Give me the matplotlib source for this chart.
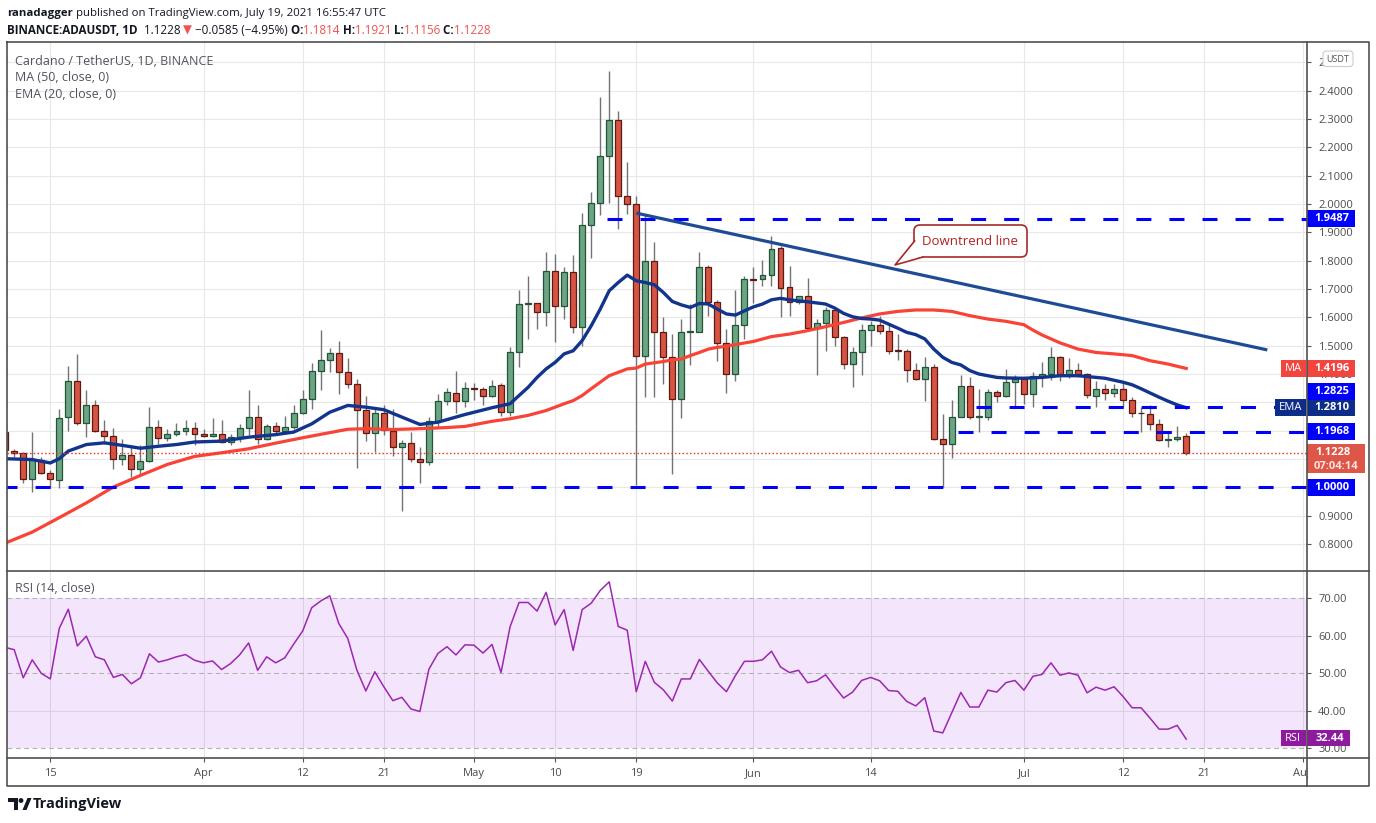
import numpy as np
import pandas as pd
import matplotlib
matplotlib.use('Agg')
import matplotlib.pyplot as plt
from matplotlib.patches import Rectangle, Polygon, Circle, FancyBboxPatch
from matplotlib.ticker import FuncFormatter

plt.rcParams['font.family'] = ['Open Sans', 'DejaVu Sans']
plt.rcParams['lines.scale_dashes'] = False

# daily candles ADA/USDT, 2021-03-10 .. 2021-07-19
start = pd.Timestamp('2021-03-10')
opens = [1.195, 1.129, 1.122, 1.031, 1.097, 1.051, 1.027, 1.248, 1.376, 1.228,
         1.291, 1.200, 1.182, 1.101, 1.115, 1.066, 1.094, 1.214, 1.175, 1.189,
         1.200, 1.210, 1.189, 1.182, 1.189, 1.161, 1.179, 1.210, 1.249, 1.171,
         1.217, 1.200, 1.214, 1.263, 1.312, 1.411, 1.450, 1.474, 1.407, 1.365,
         1.274, 1.193, 1.263, 1.200, 1.143, 1.157, 1.101, 1.090, 1.235, 1.305,
         1.333, 1.305, 1.350, 1.347, 1.323, 1.362, 1.267, 1.478, 1.647, 1.650,
         1.619, 1.763, 1.640, 1.760, 1.566, 1.925, 2.002, 2.171, 2.295, 2.027,
         1.999, 1.464, 1.798, 1.548, 1.460, 1.312, 1.548, 1.548, 1.777, 1.654,
         1.509, 1.400, 1.573, 1.736, 1.735, 1.749, 1.844, 1.707, 1.654, 1.675,
         1.562, 1.580, 1.626, 1.531, 1.436, 1.478, 1.555, 1.573, 1.552, 1.483,
         1.481, 1.414, 1.383, 1.425, 1.171, 1.154, 1.249, 1.358, 1.249, 1.249,
         1.337, 1.323, 1.372, 1.383, 1.330, 1.393, 1.399, 1.460, 1.399, 1.414,
         1.400, 1.323, 1.347, 1.333, 1.347, 1.309, 1.264, 1.259, 1.224, 1.168,
         1.171, 1.1814]
highs = [1.200, 1.136, 1.125, 1.194, 1.107, 1.060, 1.277, 1.430, 1.472, 1.342,
         1.310, 1.239, 1.208, 1.171, 1.144, 1.151, 1.285, 1.239, 1.207, 1.228,
         1.236, 1.230, 1.207, 1.245, 1.239, 1.189, 1.224, 1.342, 1.289, 1.224,
         1.230, 1.250, 1.289, 1.344, 1.438, 1.556, 1.492, 1.518, 1.456, 1.383,
         1.324, 1.280, 1.289, 1.277, 1.168, 1.195, 1.144, 1.248, 1.330, 1.352,
         1.412, 1.371, 1.368, 1.355, 1.379, 1.368, 1.496, 1.696, 1.746, 1.652,
         1.831, 1.825, 1.779, 1.820, 1.967, 2.043, 2.377, 2.468, 2.328, 2.148,
         2.028, 1.963, 1.866, 1.600, 1.541, 1.594, 1.647, 1.831, 1.785, 1.660,
         1.559, 1.696, 1.746, 1.776, 1.802, 1.887, 1.852, 1.782, 1.676, 1.738,
         1.594, 1.635, 1.637, 1.535, 1.494, 1.576, 1.588, 1.606, 1.576, 1.541,
         1.488, 1.438, 1.459, 1.436, 1.259, 1.309, 1.397, 1.388, 1.347, 1.347,
         1.344, 1.418, 1.398, 1.388, 1.406, 1.444, 1.494, 1.465, 1.457, 1.439,
         1.404, 1.374, 1.365, 1.365, 1.374, 1.318, 1.283, 1.289, 1.242, 1.195,
         1.218, 1.1921]
lows = [1.125, 1.107, 1.015, 0.983, 1.046, 0.999, 0.998, 1.198, 1.219, 1.177,
        1.195, 1.154, 1.064, 1.080, 1.037, 1.042, 1.090, 1.154, 1.163, 1.180,
        1.184, 1.148, 1.177, 1.177, 1.157, 1.149, 1.160, 1.184, 1.154, 1.168,
        1.189, 1.191, 1.207, 1.259, 1.277, 1.344, 1.406, 1.330, 1.350, 1.068,
        1.165, 1.124, 1.184, 1.112, 0.917, 1.090, 1.015, 1.078, 1.213, 1.290,
        1.262, 1.284, 1.309, 1.289, 1.318, 1.250, 1.253, 1.424, 1.524, 1.559,
        1.568, 1.512, 1.594, 1.545, 1.498, 1.809, 1.960, 2.005, 1.913, 1.966,
        1.007, 1.318, 1.318, 1.365, 1.048, 1.245, 1.433, 1.547, 1.605, 1.445,
        1.333, 1.376, 1.524, 1.649, 1.711, 1.709, 1.602, 1.606, 1.647, 1.553,
        1.397, 1.480, 1.500, 1.418, 1.353, 1.395, 1.500, 1.541, 1.470, 1.450,
        1.371, 1.379, 1.304, 1.166, 0.999, 1.105, 1.248, 1.242, 1.195, 1.236,
        1.300, 1.318, 1.283, 1.295, 1.283, 1.353, 1.379, 1.374, 1.385, 1.389,
        1.315, 1.283, 1.310, 1.318, 1.283, 1.248, 1.195, 1.201, 1.163, 1.144,
        1.165, 1.1156]
closes = [1.130, 1.122, 1.031, 1.097, 1.050, 1.031, 1.245, 1.376, 1.226, 1.291,
          1.200, 1.182, 1.101, 1.115, 1.066, 1.094, 1.214, 1.175, 1.189, 1.200,
          1.210, 1.189, 1.182, 1.189, 1.161, 1.179, 1.210, 1.249, 1.171, 1.217,
          1.200, 1.214, 1.263, 1.312, 1.411, 1.450, 1.474, 1.407, 1.365, 1.274,
          1.193, 1.263, 1.203, 1.143, 1.157, 1.101, 1.090, 1.235, 1.305, 1.337,
          1.305, 1.351, 1.346, 1.323, 1.358, 1.267, 1.478, 1.647, 1.650, 1.619,
          1.763, 1.640, 1.760, 1.566, 1.925, 2.002, 2.171, 2.295, 2.027, 1.999,
          1.464, 1.798, 1.548, 1.460, 1.312, 1.548, 1.551, 1.777, 1.654, 1.509,
          1.400, 1.573, 1.735, 1.733, 1.749, 1.840, 1.703, 1.654, 1.674, 1.562,
          1.580, 1.626, 1.531, 1.436, 1.478, 1.555, 1.573, 1.552, 1.481, 1.480,
          1.414, 1.383, 1.425, 1.171, 1.154, 1.249, 1.358, 1.249, 1.251, 1.337,
          1.323, 1.372, 1.383, 1.330, 1.393, 1.400, 1.460, 1.399, 1.414, 1.399,
          1.326, 1.347, 1.333, 1.347, 1.309, 1.263, 1.261, 1.224, 1.168, 1.171,
          1.178, 1.1228]

# EMA(20) and MA(50) (day index -> value)
ema_days = [1, 4, 6, 7, 8, 10, 12, 14, 16, 18, 20, 22, 25, 28, 31, 33, 35, 37, 39,
            41, 43, 45, 47, 49, 52, 55, 57, 58, 59, 60, 61, 62, 63, 64, 65, 66, 67,
            68, 69, 70, 71, 72, 73, 74, 75, 76, 77, 78, 79, 80, 81, 82, 83, 84, 85,
            86, 87, 88, 89, 90, 92, 93, 94, 95, 96, 97, 98, 99, 100, 101, 102, 103,
            104, 105, 106, 107, 108, 109, 110, 111, 112, 114, 116, 118, 120, 121,
            123, 125, 126, 127, 128, 129, 130, 131, 132]
ema_vals = [1.101, 1.098, 1.086, 1.101, 1.128, 1.151, 1.157, 1.148, 1.138, 1.145,
            1.151, 1.160, 1.163, 1.177, 1.186, 1.195, 1.224, 1.265, 1.289, 1.283,
            1.274, 1.248, 1.222, 1.230, 1.257, 1.281, 1.295, 1.324, 1.353, 1.388,
            1.418, 1.441, 1.471, 1.482, 1.518, 1.570, 1.629, 1.694, 1.723, 1.749,
            1.729, 1.723, 1.715, 1.688, 1.656, 1.644, 1.635, 1.649, 1.647, 1.629,
            1.612, 1.608, 1.623, 1.637, 1.647, 1.662, 1.667, 1.662, 1.658, 1.655,
            1.647, 1.633, 1.614, 1.602, 1.596, 1.594, 1.590, 1.576, 1.562, 1.547,
            1.539, 1.524, 1.488, 1.459, 1.441, 1.432, 1.412, 1.400, 1.394, 1.388,
            1.386, 1.385, 1.388, 1.394, 1.394, 1.391, 1.385, 1.371, 1.362, 1.348,
            1.333, 1.318, 1.304, 1.291, 1.281]
ma_days = [1, 4, 7, 10, 13, 16, 19, 22, 25, 28, 31, 34, 37, 39, 41, 44, 47, 50, 52,
           55, 57, 59, 61, 63, 64, 65, 66, 67, 68, 69, 70, 71, 72, 74, 75, 76, 77,
           78, 79, 80, 81, 82, 84, 86, 88, 90, 92, 94, 96, 98, 100, 102, 104, 106,
           108, 110, 112, 114, 115, 116, 118, 120, 122, 124, 126, 128, 130, 132]
ma_vals = [0.803, 0.842, 0.893, 0.945, 1.001, 1.042, 1.081, 1.109, 1.122, 1.136,
           1.156, 1.175, 1.193, 1.205, 1.207, 1.204, 1.207, 1.211, 1.215, 1.233,
           1.242, 1.254, 1.271, 1.295, 1.306, 1.324, 1.348, 1.371, 1.394, 1.406,
           1.418, 1.421, 1.435, 1.444, 1.450, 1.453, 1.465, 1.476, 1.488, 1.494,
           1.498, 1.504, 1.515, 1.532, 1.541, 1.553, 1.567, 1.582, 1.598, 1.612,
           1.621, 1.626, 1.626, 1.621, 1.606, 1.594, 1.586, 1.574, 1.555, 1.538,
           1.510, 1.488, 1.476, 1.471, 1.465, 1.447, 1.435, 1.4196]

rsi_vals = [56.9, 56.3, 48.8, 53.6, 50.0, 48.5, 62.0, 67.1, 57.3, 59.9,
            54.4, 53.6, 48.9, 49.7, 47.2, 48.8, 55.2, 53.0, 53.6, 54.4,
            55.0, 53.5, 52.8, 53.3, 51.0, 52.6, 54.9, 58.1, 50.8, 54.4,
            52.8, 54.1, 57.8, 61.3, 67.5, 69.3, 70.7, 63.3, 59.3, 50.9,
            45.3, 50.4, 46.4, 42.7, 43.6, 40.5, 39.8, 51.1, 55.3, 57.1,
            54.9, 57.6, 57.5, 55.4, 57.7, 50.2, 62.4, 68.9, 68.9, 66.6,
            71.6, 62.9, 67.0, 56.1, 67.0, 68.7, 72.1, 74.4, 62.5, 61.5,
            45.1, 53.2, 47.6, 45.6, 42.6, 48.5, 48.5, 53.7, 50.5, 47.4,
            45.1, 49.4, 53.2, 53.2, 53.6, 55.9, 51.7, 50.2, 50.8, 47.5,
            48.0, 49.6, 46.4, 43.4, 45.0, 48.1, 48.9, 48.0, 45.4, 45.2,
            42.5, 41.3, 43.5, 34.6, 34.1, 39.5, 44.9, 41.0, 41.0, 45.5,
            45.0, 47.5, 48.1, 45.5, 49.2, 49.7, 52.8, 49.5, 50.1, 49.5,
            44.8, 46.3, 45.5, 46.4, 43.8, 40.8, 40.8, 38.0, 35.1, 35.1,
            36.1, 32.44]

tick_dates = ['2021-03-15', '2021-04-01', '2021-04-12', '2021-04-21', '2021-05-01',
              '2021-05-10', '2021-05-19', '2021-06-01', '2021-06-14', '2021-07-01',
              '2021-07-12', '2021-07-21', '2021-08-01']
tick_labels = ['15', 'Apr', '12', '21', 'May', '10', '19', 'Jun', '14', 'Jul',
               '12', '21', 'Aug']
price_ticks = [0.8, 0.9, 1.0, 1.1, 1.2, 1.3, 1.4, 1.5, 1.6, 1.7, 1.8, 1.9, 2.0,
               2.1, 2.2, 2.3, 2.4, 2.5]
covered_ticks = [1.0, 1.1, 1.2, 1.3]   # hidden under the price-scale badges
rsi_ticks = [30, 40, 50, 60, 70]

levels = [1.9487, 1.2825, 1.1968, 1.0000]
level_from = [68, 109, 107, 1]
trend_days = [71, 141]
trend_vals = [1.968, 1.485]
last_close = 1.1228
ma_last, ema_last, rsi_last = 1.4196, 1.2810, 32.44

W, H = 1376, 823
fig = plt.figure(figsize=(W / 100, H / 100), dpi=100)
fig.patch.set_facecolor('white')


def frac(x0, y0, x1, y1):
    return [x0 / W, 1 - y1 / H, (x1 - x0) / W, (y1 - y0) / H]


ax = fig.add_axes(frac(7, 42, 1307, 571))
ax2 = fig.add_axes(frac(7, 571, 1307, 758))
XMIN, XMAX = 1.2, 145.4

tick_pos = [(pd.Timestamp(d) - start).days + 1 for d in tick_dates]

# ---- price pane
x = np.arange(1, len(opens) + 1)
o = np.array(opens); c = np.array(closes)
h = np.array(highs); l = np.array(lows)
up = c >= o
lo = np.minimum(o, c)
bh = np.maximum(np.abs(c - o), 0.0025)

ax.vlines(x, l, h, color='#737375', lw=1.0, zorder=2)
ax.bar(x[up], bh[up], bottom=lo[up], width=0.66, color='#6ba583',
       edgecolor='#225437', lw=0.9, zorder=3)
ax.bar(x[~up], bh[~up], bottom=lo[~up], width=0.66, color='#d75442',
       edgecolor='#5b1a13', lw=0.9, zorder=3)

ax.plot(ma_days, ma_vals, color='#f94336', lw=2.3, zorder=4)
ax.plot(ema_days, ema_vals, color='#12348c', lw=2.4, zorder=5)

for lv, s in zip(levels, level_from):
    ax.plot([s - 0.3, XMAX], [lv, lv], color='#0000ff', lw=2.2,
            dashes=(10.8, 13), zorder=6)
ax.axhline(last_close, color='#e8392f', lw=1.0, dashes=(1.1, 1.6), zorder=6)
ax.plot(trend_days, trend_vals, color='#1f4b95', lw=2.3, zorder=6,
        solid_capstyle='butt')

ax.set_xlim(XMIN, XMAX)
ax.set_ylim(0.7046, 2.572)
ax.set_xticks(tick_pos)
ax.set_yticks(price_ticks)
ax.yaxis.tick_right()
ax.yaxis.set_major_formatter(FuncFormatter(
    lambda v, p: '' if any(abs(v - t) < 1e-6 for t in covered_ticks) else f'{v:.4f}'))
ax.tick_params(axis='x', length=0, labelbottom=False)
ax.tick_params(axis='y', length=3, width=0.8, color='#555555', pad=5,
               labelsize=8, labelcolor='#4c4c4c')
ax.grid(True, color='#e8e8e8', lw=0.8)
ax.set_axisbelow(True)
for sp in ax.spines.values():
    sp.set_visible(False)

# ---- RSI pane
ax2.axhspan(30, 70, color='#b45af0', alpha=0.15, lw=0, zorder=1)
for v in (60, 40):
    ax2.axhline(v, color='#dccfe6', lw=0.8, zorder=1.5)
for v in (70, 50, 30):
    ax2.axhline(v, color='#b4b4b4', lw=0.8, dashes=(3.5, 2.5), zorder=1.5)
ax2.plot(x, rsi_vals, color='#9c27b0', lw=1.1, zorder=4)
ax2.set_xlim(XMIN, XMAX)
ax2.set_ylim(27.4, 77.3)
ax2.set_xticks(tick_pos)
ax2.set_xticklabels(tick_labels)
ax2.set_yticks(rsi_ticks)
ax2.yaxis.tick_right()
ax2.yaxis.set_major_formatter(FuncFormatter(lambda v, p: f'{v:.2f}'))
ax2.tick_params(axis='y', length=3, width=0.8, color='#555555', pad=5,
                labelsize=8, labelcolor='#4c4c4c')
ax2.tick_params(axis='x', length=3, width=0.8, color='#555555', pad=4,
                labelsize=8, labelcolor='#4c4c4c')
ax2.grid(True, axis='x', color='#e4e4e4', lw=0.8)
ax2.set_axisbelow(True)
for sp in ax2.spines.values():
    sp.set_visible(False)

# ---- overlay in pixel coordinates
ov = fig.add_axes([0, 0, 1, 1], zorder=10)
ov.set_xlim(0, W)
ov.set_ylim(H, 0)
ov.axis('off')


def py(a, v):
    return H - a.transData.transform((XMIN, v))[1]


# hide clipped 'Aug' part under the price scale
ov.add_patch(Rectangle((1308, 759), 60, 26, fc='white', ec='none', zorder=1))

frame = dict(color='#505050', lw=1.2, zorder=9)
ov.plot([7, 1369, 1369, 7, 7], [42, 42, 786, 786, 42], **frame)
ov.plot([1307, 1307], [42, 786], **frame)
ov.plot([7, 1369], [571, 571], **frame)
ov.plot([7, 1369], [758, 758], **frame)


def run_text(x0, y0, parts, size):
    t = ov.text(x0, y0, parts[0][0], color=parts[0][1], fontweight=parts[0][2],
                fontsize=size, ha='left', va='center')
    for s, col, w in parts[1:]:
        t = ov.annotate(s, xy=(1, 0.5), xycoords=t, ha='left', va='center',
                        color=col, fontweight=w, fontsize=size)


ink = '#131722'
red = '#ef5350'
run_text(7, 13, [('ranadagger', ink, 'bold'),
                 (' published on TradingView.com, July 19, 2021 16:55:47 UTC', ink, 'normal')], 8.2)
run_text(7, 30, [('BINANCE:ADAUSDT, 1D', ink, 'bold'),
                 ('  1.1228', ink, 'normal'), (' ▼', red, 'normal'),
                 (' −0.0585 (−4.95%)', ink, 'normal'),
                 (' O:', ink, 'bold'), ('1.1814', red, 'normal'),
                 (' H:', ink, 'bold'), ('1.1921', red, 'normal'),
                 (' L:', ink, 'bold'), ('1.1156', red, 'normal'),
                 (' C:', ink, 'bold'), ('1.1228', red, 'normal')], 8.4)

grey = '#50535e'
ov.text(15, 61, 'Cardano / TetherUS, 1D, BINANCE', color=grey, fontsize=9, va='center')
ov.text(15, 77, 'MA (50, close, 0)', color=grey, fontsize=9, va='center')
ov.text(15, 94, 'EMA (20, close, 0)', color=grey, fontsize=9, va='center')
ov.text(15, 588, 'RSI (14, close)', color=grey, fontsize=9, va='center')

# USDT badge
ov.add_patch(FancyBboxPatch((1323, 51), 30, 15.5, boxstyle='round,pad=0,rounding_size=3',
                            fc='white', ec='#cccccc', lw=0.8, zorder=5))
ov.text(1338, 59, 'USDT', color='#555555', fontsize=6.5, ha='center', va='center', zorder=6)


def scale_box(yc, txt, fc, x1=1355, hh=16.5, tag=None, tag_x0=1281):
    ov.add_patch(Rectangle((1307, yc - hh / 2), x1 - 1307, hh, fc=fc, ec='none', zorder=5))
    ov.text((1307 + x1) / 2 + 1, yc, txt, color='white', fontsize=8,
            fontweight='bold', ha='center', va='center', zorder=6)
    if tag:
        ov.add_patch(Rectangle((tag_x0, yc - hh / 2), 1305.5 - tag_x0, hh, fc=fc,
                               ec='none', zorder=5))
        ov.text((tag_x0 + 1305.5) / 2, yc, tag, color='white', fontsize=8,
                ha='center', va='center', zorder=6)


blue = '#0000ff'
scale_box(py(ax, levels[0]), f'{levels[0]:.4f}', blue)
scale_box(py(ax, ma_last), f'{ma_last:.4f}', '#f2453d', tag='MA')
y_ema = py(ax, ema_last)
scale_box(y_ema, f'{ema_last:.4f}', '#0e2d89', tag='EMA', tag_x0=1275)
scale_box(y_ema - 16.2, f'{levels[1]:.4f}', blue)
scale_box(py(ax, levels[2]), f'{levels[2]:.4f}', blue)
scale_box(py(ax, levels[3]), f'{levels[3]:.4f}', blue)
y_lc = py(ax, last_close)
ov.add_patch(Rectangle((1307, y_lc - 8.5), 58, 29, fc='#dd5648', ec='none', zorder=5))
ov.text(1333, y_lc, f'{last_close:.4f}', color='white', fontsize=8, fontweight='bold',
        ha='center', va='center', zorder=6)
ov.text(1336, y_lc + 13.5, '07:04:14', color='#fbe3e0', fontsize=8, fontweight='bold',
        ha='center', va='center', zorder=6)
y_rsi = py(ax2, rsi_last)
scale_box(y_rsi - 1, f'{rsi_last:.2f}', '#8e1a9e', x1=1350, tag='RSI')

# callout
ov.add_patch(FancyBboxPatch((914, 225), 113, 32, boxstyle='round,pad=0,rounding_size=6',
                            fc='white', ec='#a52a2a', lw=1.2, zorder=5))
ov.add_patch(Polygon([(915.2, 241), (895, 265), (923, 256.2)], closed=True,
                     fc='white', ec='none', zorder=6))
ov.plot([914.6, 895, 923], [241, 265, 257], color='#a52a2a', lw=1.2, zorder=7)
ov.text(970.5, 241, 'Downtrend line', color='#b22222', fontsize=9.5,
        ha='center', va='center', zorder=7)

# TradingView logo
ov.add_patch(Polygon([(8, 798), (17.5, 798), (17.5, 810), (13.5, 810), (13.5, 802), (8, 802)],
                     closed=True, fc=ink, ec='none'))
ov.add_patch(Circle((21, 800.5), 2.4, fc=ink, ec='none'))
ov.add_patch(Polygon([(22.5, 810), (27.5, 798), (31.5, 798), (26.5, 810)],
                     closed=True, fc=ink, ec='none'))
ov.text(33, 804, 'TradingView', color=ink, fontsize=10.5, fontweight='bold',
        ha='left', va='center')

fig.savefig('out.png', dpi=100, facecolor='white')
